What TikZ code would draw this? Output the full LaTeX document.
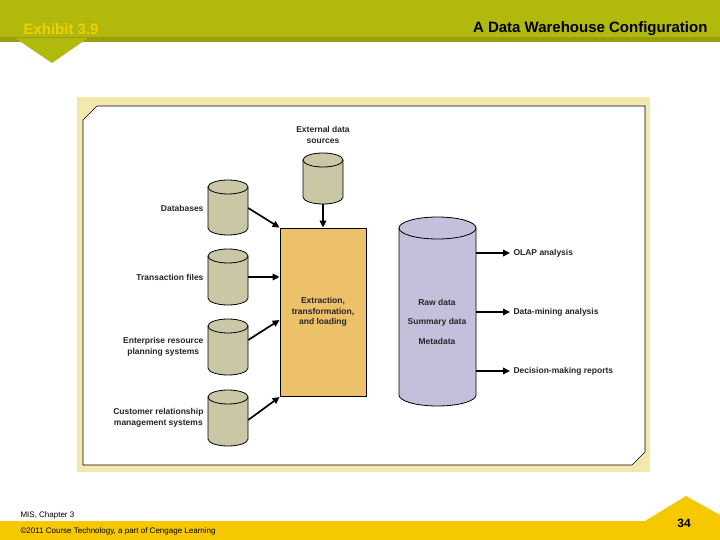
\documentclass[tikz,border=0pt]{standalone}
\usepackage{fontspec}
\setmainfont{Liberation Sans}
\usetikzlibrary{arrows.meta}
\definecolor{olive}{HTML}{B0B90C}
\definecolor{olived}{HTML}{9A9E0A}
\definecolor{exy}{HTML}{F2D000}
\definecolor{panel}{HTML}{F3E9AE}
\definecolor{cyl}{HTML}{C9C7A6}
\definecolor{etl}{HTML}{EDC06A}
\definecolor{wh}{HTML}{C4C0DC}
\definecolor{foot}{HTML}{F5C800}
\tikzset{
 cylline/.style={draw=black,line width=0.8pt},
 lab/.style={font=\bfseries\fontsize{8.5}{10.5}\selectfont,align=center,text=black!85},
 arr/.style={-{Triangle[length=7pt,width=6.5pt]},line width=1.7pt},
}
% \mycyl{name}{cx}{ytop}{ybot}{halfwidth}{ry}{colour}
\newcommand{\mycyl}[7]{%
 \filldraw[cylline,fill=#7] (#2-#5,#3+#6) -- (#2-#5,#4-#6) arc[start angle=180,end angle=360,x radius=#5,y radius=-#6] -- (#2+#5,#3+#6) arc[start angle=0,end angle=180,x radius=#5,y radius=-#6] -- cycle;
 \draw[cylline] (#2-#5,#3+#6) arc[start angle=180,end angle=360,x radius=#5,y radius=-#6];
 \node[minimum width=2*#5 pt,minimum height=#4 pt-#3 pt,inner sep=0pt] (#1) at (#2,{(#3+#4)/2}) {};
}
\begin{document}
\begin{tikzpicture}[x=1pt,y=-1pt]
\useasboundingbox (0,0) rectangle (720,540);
\fill[white] (0,0) rectangle (720,540);
% header
\fill[olive] (0,0) rectangle (720,37);
\fill[olived] (0,37) rectangle (720,42);
\fill[olive] (15,38) -- (88,38) -- (52,63) -- cycle;
\node[anchor=base west,text=exy,font=\bfseries\fontsize{15}{17}\selectfont] (ex) at (20,35) {Exhibit 3.9};
\node[anchor=base east,font=\bfseries\fontsize{15}{17}\selectfont] (ti) at (711,33) {A Data Warehouse Configuration};
% footer
\fill[foot] (0,521) rectangle (720,540);
\fill[foot] (645,521) -- (686,496) -- (720,515) -- (720,521) -- cycle;
\node[anchor=base west,font=\fontsize{8}{9}\selectfont] (mis) at (17,517) {MIS, Chapter 3};
\node[anchor=base west,font=\fontsize{8}{9}\selectfont] (cp) at (17,533) {©2011 Course Technology, a part of Cengage Learning};
\node[anchor=base,font=\bfseries\fontsize{12}{13}\selectfont] (pg) at (684,527) {34};
% panel
\fill[panel] (77,97) rectangle (650,472);
\draw[fill=white,line width=0.6pt] (97,106) -- (645,106) -- (645,452) -- (632,465) -- (83,465) -- (83,120) -- cycle;
% cylinders
\mycyl{dbs}{228}{180}{235}{20}{7}{cyl}
\mycyl{tf}{228}{249}{305}{20}{7}{cyl}
\mycyl{erp}{228}{319}{375}{20}{7}{cyl}
\mycyl{crm}{228}{390}{446}{20}{7}{cyl}
\mycyl{ext}{323}{153}{204}{20}{7}{cyl}
\node[draw,line width=0.8pt,fill=etl,minimum width=86pt,minimum height=168pt,inner sep=0pt] (box) at (323,312) {};
\node[lab,anchor=center] (etlt) at (323,312) {Extraction,\\transformation,\\and loading};
\mycyl{dw}{437.5}{217}{406}{38.5}{11}{wh}
\node[lab] (raw) at (437,302) {Raw data};
\node[lab] (sum) at (437,322) {Summary data};
\node[lab] (meta) at (437,341) {Metadata};
% labels
\node[lab] (extl) at (323,135) {External data\\sources};
\node[lab,anchor=east] (dbl) at (207,208) {Databases};
\node[lab,anchor=east] (tfl) at (207,277) {Transaction files};
\node[lab,anchor=east] (erpl) at (207,347) {Enterprise resource\\planning systems};
\node[lab,anchor=east] (crml) at (207,418) {Customer relationship\\management systems};
\node[lab,anchor=west] (olap) at (510,253) {OLAP analysis};
\node[lab,anchor=west] (dm) at (510,312) {Data-mining analysis};
\node[lab,anchor=west] (dr) at (510,371) {Decision-making reports};
% arrows
\draw[arr] (dbs.east|-0,208) -- (box.north west);
\draw[arr] (tf.east|-0,277) -- (box.west|-0,277);
\draw[arr] (erp.east|-0,340) -- (box.west|-0,320);
\draw[arr] (crm.east|-0,420) -- (box.west|-0,397);
\draw[arr] (ext.south) -- (box.north-|ext);
\draw[arr] (dw.east|-0,253) -- (olap.west);
\draw[arr] (dw.east|-0,312) -- (dm.west);
\draw[arr] (dw.east|-0,371) -- (dr.west);
\end{tikzpicture}
\end{document}
